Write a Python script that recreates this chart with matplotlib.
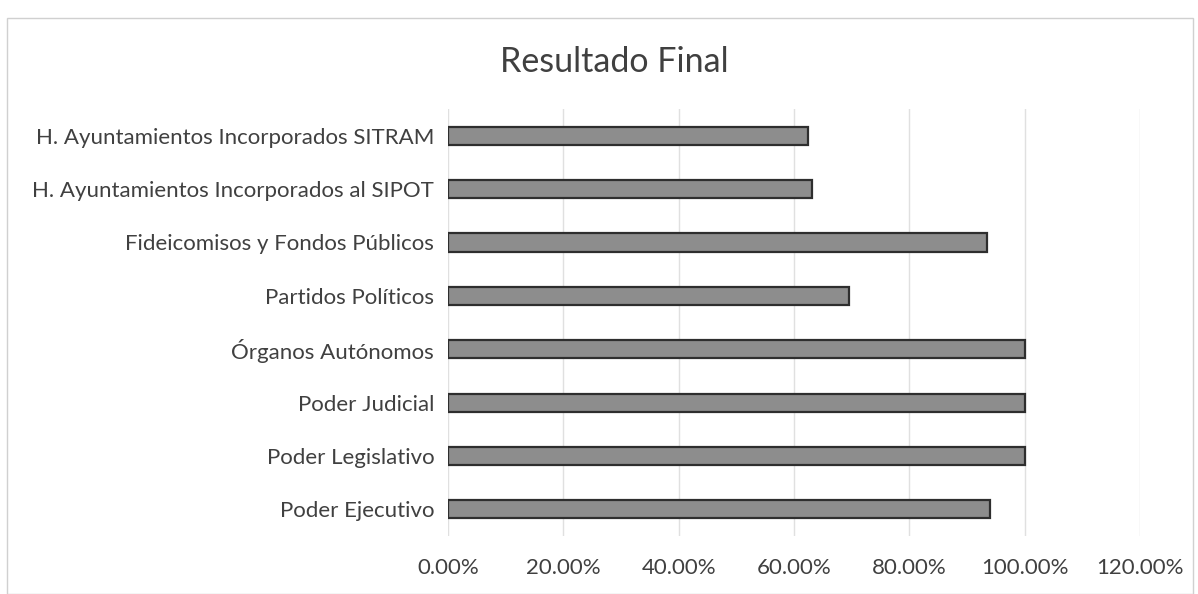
import matplotlib.pyplot as plt
from matplotlib.ticker import FuncFormatter
from matplotlib.patches import Rectangle

categorias = ['Poder Ejecutivo', 'Poder Legislativo', 'Poder Judicial',
              'Órganos Autónomos', 'Partidos Políticos',
              'Fideicomisos y Fondos Públicos',
              'H. Ayuntamientos Incorporados al SIPOT',
              'H. Ayuntamientos Incorporados SITRAM']
valores = [0.94, 1.00, 1.00, 1.00, 0.695, 0.934, 0.631, 0.624]
ticks_x = [0, 0.2, 0.4, 0.6, 0.8, 1.0, 1.2]

plt.rcParams['font.family'] = ['Lato', 'DejaVu Sans']

fig = plt.figure(figsize=(11.98, 5.94), dpi=100)
ax = fig.add_axes([0.374, 0.0976, 0.5776, 0.7189])

ax.barh(categorias, valores, height=0.34, color='#8d8d8d',
        edgecolor='#2e2e2e', linewidth=1.6, zorder=3)

ax.set_xlim(0, 1.2)
ax.set_ylim(-0.5, len(categorias) - 0.5)
ax.set_xticks(ticks_x)
ax.xaxis.set_major_formatter(FuncFormatter(lambda v, p: f'{v*100:.2f}%'))
ax.grid(axis='x', color='#e0e0e0', linewidth=1, zorder=0)
for s in ax.spines.values():
    s.set_visible(False)
ax.tick_params(axis='both', length=0, labelsize=16, colors='#404040')
ax.tick_params(axis='x', pad=16)
ax.tick_params(axis='y', pad=10)

fig.text(0.513, 0.895, 'Resultado Final', ha='center', va='center',
         fontsize=24.5, color='#404040')

fig.patches.append(Rectangle((0.006, 0.0), 0.99, 0.97, transform=fig.transFigure,
                             fill=False, edgecolor='#d0d0d0', linewidth=1))

fig.savefig('out.png', dpi=100)
